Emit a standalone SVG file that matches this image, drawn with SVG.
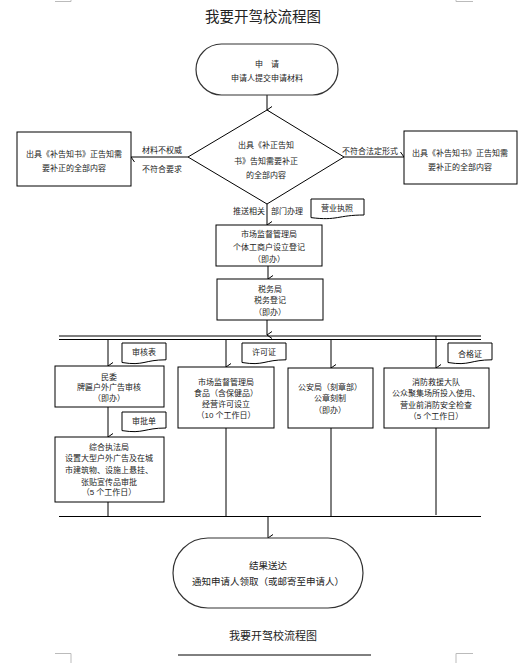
<svg xmlns="http://www.w3.org/2000/svg" width="525" height="663" viewBox="0 0 525 663">
<defs>
<marker id="arr" markerWidth="8" markerHeight="8" refX="4" refY="7" orient="auto" markerUnits="userSpaceOnUse" viewBox="0 0 8 8">
<path d="M0.5,2 L4,7 L7.5,2" fill="none" stroke="#000" stroke-width="1"/>
</marker>
<style>
text{font-family:"Liberation Sans","Noto Sans CJK SC",sans-serif;fill:#222;text-anchor:middle;dominant-baseline:central}
.s{font-size:8px}
.m{font-size:9.5px}
.box{fill:#fff;stroke:#000;stroke-width:1}
.term{fill:#fff;stroke:#333;stroke-width:1.2}
.doc{fill:#fff;stroke:#000;stroke-width:1}
.ln{fill:none;stroke:#000;stroke-width:1}
.ar{fill:none;stroke:#000;stroke-width:1;marker-end:url(#arr)}
.crop{fill:none;stroke:#bbb;stroke-width:1}
</style>
</defs>
<rect width="525" height="663" fill="#fff"/>
<g id="cropmarks">
<path class="crop" d="M55,1.5 H71 V0 M456,0 V1.5 H473 M55,653.5 H71 V663 M456,663 V653.5 H473"/>
</g>
<text x="263" y="17" style="font-size:14.5px">我要开驾校流程图</text>

<g id="connectors">
<line class="ar" x1="267" y1="95" x2="267" y2="110"/>
<line class="ar" x1="188" y1="157" x2="131" y2="157"/>
<line class="ar" x1="344" y1="157" x2="404" y2="157"/>
<line class="ar" x1="267" y1="204" x2="267" y2="225"/>
<line class="ar" x1="268" y1="266" x2="268" y2="279"/>
<line class="ar" x1="267" y1="320" x2="267" y2="335"/>
<line class="ln" x1="59" y1="336" x2="481" y2="336"/>
<line class="ln" x1="59" y1="339.5" x2="481" y2="339.5"/>
<line class="ar" x1="108" y1="339.5" x2="108" y2="366"/>
<line class="ar" x1="108" y1="407" x2="108" y2="437"/>
<line class="ln" x1="108" y1="502" x2="108" y2="516"/>
<line class="ar" x1="226" y1="339.5" x2="226" y2="367"/>
<line class="ln" x1="226" y1="428" x2="226" y2="516"/>
<line class="ar" x1="331" y1="339.5" x2="331" y2="368"/>
<line class="ln" x1="331" y1="428" x2="331" y2="516"/>
<line class="ar" x1="436" y1="336" x2="436" y2="368"/>
<line class="ln" x1="436" y1="428" x2="436" y2="515"/>
<line class="ln" x1="59" y1="516.5" x2="481" y2="516.5"/>
<line class="ar" x1="268" y1="516.5" x2="268" y2="538"/>
<text class="s" x="162" y="150">材料不权威</text>
<text class="s" x="162" y="169">不符合要求</text>
<text class="s" x="370" y="151">不符合法定形式</text>
<text class="s" x="249" y="211">推送相关</text>
<text class="s" x="287" y="211">部门办理</text>
</g>

<g id="start">
<rect class="term" x="196" y="44" width="142" height="51" rx="25.5"/>
<text class="s" x="267" y="64">申　请</text>
<text class="s" x="267" y="78">申请人提交申请材料</text>
</g>

<g id="decision">
<path class="box" d="M267,110 L344,157 L267,204 L188,157 Z"/>
<text class="s" x="266" y="145">出具《补正告知</text>
<text class="s" x="266" y="161">书》告知需要补正</text>
<text class="s" x="266" y="175">的全部内容</text>
</g>

<g id="left-notice">
<rect class="box" x="17" y="132" width="114" height="54"/>
<text class="s" x="74" y="154">出具《补告知书》正告知需</text>
<text class="s" x="74" y="168">要补正的全部内容</text>
</g>

<g id="right-notice">
<rect class="box" x="404" y="131" width="113" height="53"/>
<text class="s" x="460" y="153">出具《补告知书》正告知需</text>
<text class="s" x="460" y="167">要补正的全部内容</text>
</g>

<g id="doc-license">
<path class="doc" d="M311,199 H364 V215 C337.5,215 337.5,221 311,217.6 Z"/>
<text class="s" x="337" y="208">营业执照</text>
</g>

<g id="market-reg">
<rect class="box" x="216" y="225" width="106" height="41"/>
<text class="s" x="269" y="234">市场监督管理局</text>
<text class="s" x="269" y="247">个体工商户设立登记</text>
<text class="s" x="269" y="259">（即办）</text>
</g>

<g id="tax">
<rect class="box" x="217" y="279" width="106" height="41"/>
<text class="s" x="270" y="289">税务局</text>
<text class="s" x="270" y="300">税务登记</text>
<text class="s" x="270" y="312">（即办）</text>
</g>

<g id="doc-review">
<path class="doc" d="M122,343 H166 V359.8 C144,359.8 144,366.1 122,362.5 Z"/>
<text class="s" x="144" y="352">审核表</text>
</g>

<g id="minwei">
<rect class="box" x="55" y="366" width="109" height="41"/>
<text class="s" x="109" y="377">民委</text>
<text class="s" x="109" y="387">牌匾户外广告审核</text>
<text class="s" x="109" y="398">（即办）</text>
</g>

<g id="doc-approval">
<path class="doc" d="M122,412 H166 V428 C144,428 144,434 122,430.6 Z"/>
<text class="s" x="144" y="421">审批单</text>
</g>

<g id="enforcement">
<rect class="box" x="55" y="437" width="109" height="65"/>
<text class="s" x="109" y="447">综合执法局</text>
<text class="s" x="109" y="458">设置大型户外广告及在城</text>
<text class="s" x="109" y="470">市建筑物、设施上悬挂、</text>
<text class="s" x="109" y="482">张贴宣传品审批</text>
<text class="s" x="109" y="492">（5 个工作日）</text>
</g>

<g id="doc-permit">
<path class="doc" d="M242,343 H286 V359.8 C264,359.8 264,366.1 242,362.5 Z"/>
<text class="s" x="264" y="352">许可证</text>
</g>

<g id="food">
<rect class="box" x="178" y="367" width="96" height="61"/>
<text class="s" x="226" y="382">市场监督管理局</text>
<text class="s" x="226" y="393">食品（含保健品）</text>
<text class="s" x="226" y="404">经营许可设立</text>
<text class="s" x="226" y="415">（10 个工作日）</text>
</g>

<g id="police">
<rect class="box" x="288" y="368" width="85" height="60"/>
<text class="s" x="330" y="387">公安局（刻章部）</text>
<text class="s" x="330" y="398">公章刻制</text>
<text class="s" x="330" y="410">（即办）</text>
</g>

<g id="doc-cert">
<path class="doc" d="M448,343 H492 V359.8 C470,359.8 470,366.1 448,362.5 Z"/>
<text class="s" x="470" y="354">合格证</text>
</g>

<g id="fire">
<rect class="box" x="384" y="368" width="105" height="60"/>
<text class="s" x="436" y="382">消防救援大队</text>
<text class="s" x="436" y="393">公众聚集场所投入使用、</text>
<text class="s" x="436" y="405">营业前消防安全检查</text>
<text class="s" x="436" y="416">（5 个工作日）</text>
</g>

<g id="end">
<rect class="term" x="173" y="538" width="190" height="70" rx="35"/>
<text class="m" x="268" y="565">结果送达</text>
<text class="m" x="268" y="581">通知申请人领取（或邮寄至申请人）</text>
</g>

<text x="273" y="636" style="font-size:11px">我要开驾校流程图</text>
<line x1="178" y1="655" x2="371" y2="655" stroke="#000" stroke-width="1"/>
</svg>
